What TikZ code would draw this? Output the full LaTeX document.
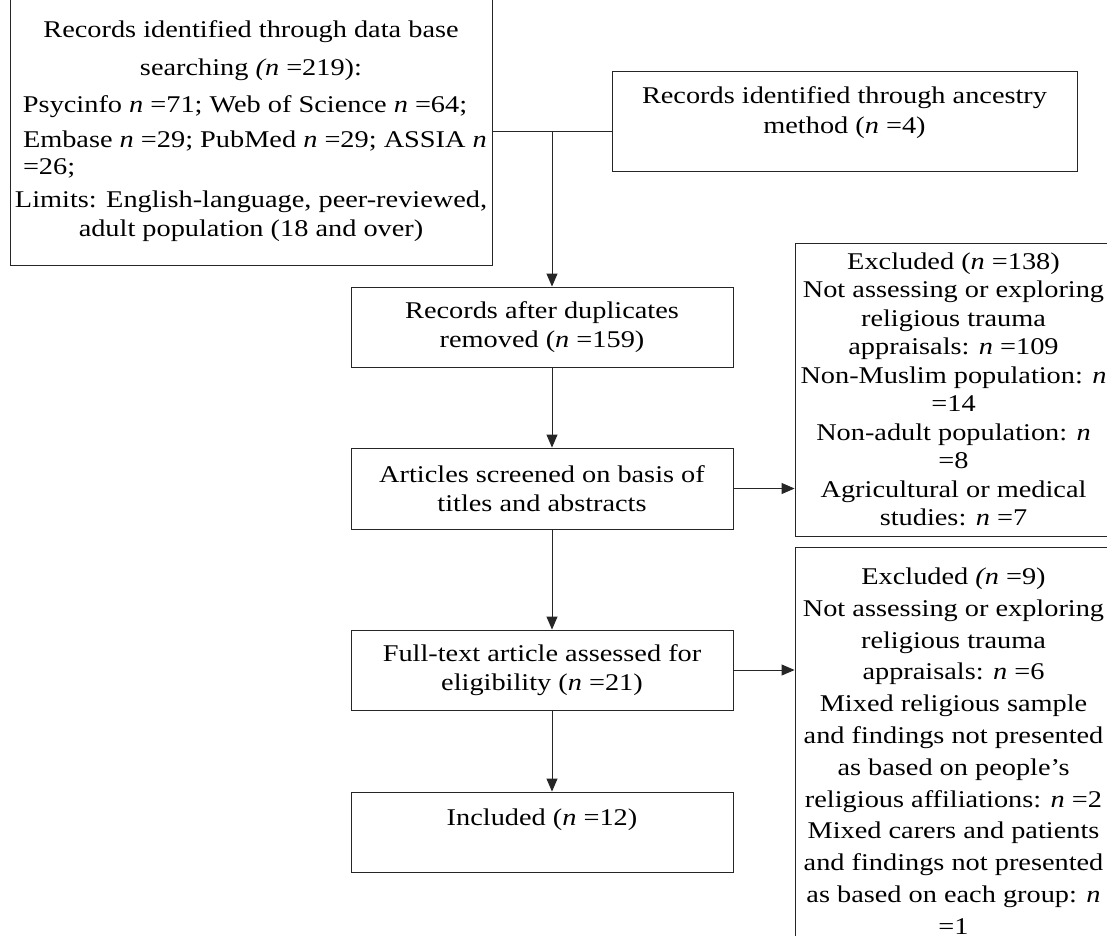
\documentclass[tikz,border=0pt]{standalone}
\usepackage{fontspec}
\setmainfont{Liberation Serif}[FakeStretch=1.18]
\usetikzlibrary{arrows.meta}
\begin{document}
\begin{tikzpicture}[x=1pt,y=-1pt,
  box/.style={draw=black!85, line width=0.9pt, align=center, inner sep=0pt,
    font=\fontsize{24}{28.5}\selectfont},
  conn/.style={draw=black!85, line width=0.9pt},
  arr/.style={conn, -{Triangle[length=13pt,width=11pt]}}]
\clip (0,0) rectangle (1107,935);
\fill[white] (0,0) rectangle (1107,935);

\node[box, minimum width=482pt, minimum height=268pt] (src) at (251,131)
 {Records identified through data base\\[9.5pt]
  searching \textit{(n} =219):\\[8.5pt]
  \makebox[456pt][l]{Psycinfo \textit{n} =71; Web of Science \textit{n} =64;}\\[6.5pt]
  \makebox[456pt][l]{Embase \textit{n} =29; PubMed \textit{n} =29; ASSIA \textit{n}}\\[-2pt]
  \makebox[456pt][l]{=26;}\\[5pt]
  Limits: English-language, peer-reviewed,\\
  adult population (18 and over)};

\node[box, minimum width=465pt, minimum height=100pt] (anc) at (844.5,121)
 {Records identified through ancestry\\[2pt]
  method (\textit{n} =4)\\[-6.5pt]\mbox{}};

\node[box, minimum width=382pt, minimum height=80pt] (rec) at (542,327)
 {Records after duplicates\\ removed (\textit{n} =159)};
\node[box, minimum width=382pt, minimum height=81pt] (art) at (542,488.5)
 {Articles screened on basis of\\ titles and abstracts};
\node[box, minimum width=382pt, minimum height=80pt] (ful) at (542,670)
 {Full-text article assessed for\\ eligibility (\textit{n} =21)};
\node[box, minimum width=382pt, minimum height=80pt] (inc) at (542,832)
 {Included (\textit{n} =12)\\[1.5pt]\mbox{}};

\node[box, minimum width=317pt, minimum height=293pt] (ex1) at (953.5,389.5)
 {Excluded (\textit{n} =138)\\
  Not assessing or exploring\\
  religious trauma\\
  appraisals: \textit{n} =109\\
  Non-Muslim population: \textit{n}\\
  =14\\
  Non-adult population: \textit{n}\\
  =8\\
  Agricultural or medical\\
  studies: \textit{n} =7};

\node[box, minimum width=317pt, minimum height=408pt,
  font=\fontsize{24}{31.8}\selectfont] (ex2) at (953.5,751)
 {Excluded \textit{(n} =9)\\
  Not assessing or exploring\\
  religious trauma\\
  appraisals: \textit{n} =6\\
  Mixed religious sample\\
  and findings not presented\\
  as based on people’s\\
  religious affiliations: \textit{n} =2\\
  Mixed carers and patients\\
  and findings not presented\\
  as based on each group: \textit{n}\\
  =1};

\coordinate (j) at (552,131);
\draw[conn] (src.east |- j) -- (anc.west |- j);
\draw[arr] (j) -- (rec.north -| j);
\draw[arr] (rec.south -| j) -- (art.north -| j);
\draw[arr] (art.south -| j) -- (ful.north -| j);
\draw[arr] (ful.south -| j) -- (inc.north -| j);
\draw[arr] (art.east) -- (ex1.west |- art.east);
\draw[arr] (ful.east) -- (ex2.west |- ful.east);
\end{tikzpicture}
\end{document}
